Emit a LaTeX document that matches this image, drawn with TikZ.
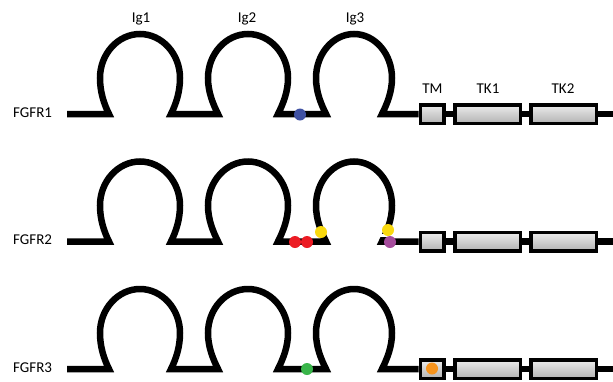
\documentclass[tikz,border=0pt]{standalone}
\usepackage{fontspec}
\setmainfont{Carlito}
\definecolor{dotblue}{HTML}{3F51A3}
\definecolor{dotred}{HTML}{EC1C24}
\definecolor{dotyellow}{HTML}{F9D90F}
\definecolor{dotpurple}{HTML}{A54C9C}
\definecolor{dotgreen}{HTML}{39B54A}
\definecolor{dotorange}{HTML}{F7941D}
\begin{document}
\begin{tikzpicture}[x=1pt,y=-1pt,
  rowline/.style={line width=6.5pt, line join=miter, line cap=butt},
  domainbox/.style={draw, line width=3.5pt, top color=gray!15, bottom color=gray!60, minimum height=18.5pt, inner sep=0pt},
  tmbox/.style={domainbox, minimum width=23.5pt},
  tkbox/.style={domainbox, minimum width=65.5pt},
  lbl/.style={font=\fontsize{15}{15}\selectfont, inner sep=0pt, anchor=base},
  rowlbl/.style={font=\fontsize{15}{15}\selectfont, inner sep=0pt, anchor=base west},
  dot/.style={circle, inner sep=0pt, minimum size=12pt},
  omega/.style n args={4}{insert path={ -- ({#1-#3},#4)
     .. controls ({#1-#3-5},{#4-10}) and ({#1-#2},{#4-22}) .. ({#1-#2},{#4-36})
     .. controls ({#1-#2},{#4-60}) and ({#1-0.552*#2},{#4-80}) .. (#1,{#4-80})
     .. controls ({#1+0.552*#2},{#4-80}) and ({#1+#2},{#4-60}) .. ({#1+#2},{#4-36})
     .. controls ({#1+#2},{#4-22}) and ({#1+#3+5},{#4-10}) .. ({#1+#3},#4)}}
]
\useasboundingbox (0,0) rectangle (613,381);

% labels
\node[lbl] (ig1) at (141,22) {Ig1};
\node[lbl] (ig2) at (247,22) {Ig2};
\node[lbl] (ig3) at (355,22) {Ig3};
\node[lbl] (tmlbl) at (432.5,93.5) {TM};
\node[lbl] (tk1lbl) at (488,93.5) {TK1};
\node[lbl] (tk2lbl) at (563,93.5) {TK2};

\foreach \r/\y/\lab in {1/114/FGFR1, 2/241.5/FGFR2, 3/369/FGFR3}{
  \node[rowlbl] (lab\r) at (13,{\y+3}) {\lab};
  \coordinate (s\r) at (67,\y);
  \coordinate (e\r) at (613,\y);
  \node[tmbox] (tm\r) at (432,\y) {};
  \node[tkbox] (tka\r) at (487.5,\y) {};
  \node[tkbox] (tkb\r) at (563.5,\y) {};
  \draw[rowline] (s\r) [omega={140}{40}{31}{\y}] [omega={248}{40}{30}{\y}] [omega={354}{38}{28}{\y}] -- (tm\r.west);
  \draw[rowline] (tm\r.east) -- (tka\r.west);
  \draw[rowline] (tka\r.east) -- (tkb\r.west);
  \draw[rowline] (tkb\r.east) -- (e\r);
}

% gap in FGFR2 Ig3 right leg
\draw[white, line width=3pt] (378,235.5) -- (392,235.5);

% mutation dots
\node[dot, fill=dotblue] (m1) at (300,114.5) {};
\node[dot, fill=dotred] (m2a) at (295,242) {};
\node[dot, fill=dotred] (m2b) at (307,242) {};
\node[dot, fill=dotyellow] (m2c) at (321,232) {};
\node[dot, fill=dotyellow] (m2d) at (388,230) {};
\node[dot, fill=dotpurple] (m2e) at (390,242) {};
\node[dot, fill=dotgreen] (m3a) at (307,369) {};
\node[dot, fill=dotorange] (m3b) at (432,368.5) {};
\end{tikzpicture}
\end{document}
